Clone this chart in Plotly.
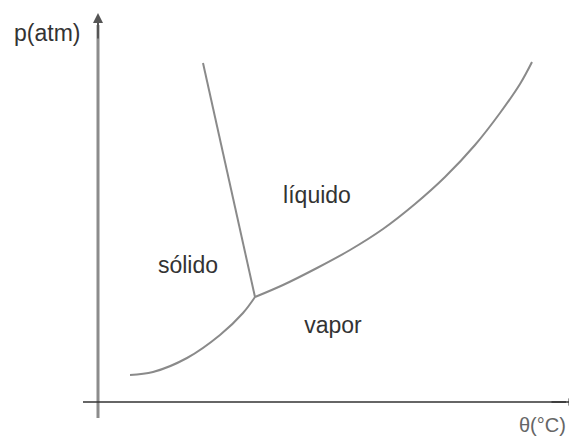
import plotly.graph_objects as go

sub_x = [130, 153, 187, 220, 243, 255]
sub_y = [375, 372, 358, 335, 313, 297]
fus_x = [255, 229, 203]
fus_y = [297, 180, 63]
vap_x = [255, 283, 317, 350, 383, 415, 445, 475, 500, 520, 532]
vap_y = [297, 285, 268, 250, 229, 204, 177, 145, 113, 84, 62]

region_labels = ["líquido", "sólido", "vapor"]
region_x = [317, 188, 333]
region_y = [197, 267, 327]

FONT = "Liberation Sans, Arial, sans-serif"
curve_color = "#8a8a8a"
fig = go.Figure()
for xs, ys in [(sub_x, sub_y), (fus_x, fus_y), (vap_x, vap_y)]:
    fig.add_trace(go.Scatter(x=xs, y=ys, mode="lines",
                             line=dict(color=curve_color, width=2, shape="spline", smoothing=1),
                             hoverinfo="skip", showlegend=False))

fig.add_trace(go.Scatter(x=region_x, y=region_y, mode="text", text=region_labels,
                         textfont=dict(family=FONT, size=23, color="#333"),
                         hoverinfo="skip", showlegend=False))

# Axes with arrows
fig.add_shape(type="line", x0=98, y0=418, x1=98, y1=25, line=dict(color="#8c8c8c", width=3))
fig.add_shape(type="line", x0=83, y0=402, x1=566, y1=402, line=dict(color="#333", width=1.5))
fig.add_annotation(x=98, y=13, ax=98, ay=40, xref="x", yref="y", axref="x", ayref="y",
                   showarrow=True, arrowhead=2, arrowsize=1, arrowwidth=2, arrowcolor="#555", text="")
fig.add_annotation(x=576, y=402, ax=550, ay=402, xref="x", yref="y", axref="x", ayref="y",
                   showarrow=True, arrowhead=2, arrowsize=1, arrowwidth=1.5, arrowcolor="#333", text="")

fig.add_annotation(x=47, y=33, text="p(atm)", showarrow=False,
                   font=dict(family=FONT, size=23, color="#333"))
fig.add_annotation(x=542, y=425, text="θ(°C)", showarrow=False,
                   font=dict(family=FONT, size=20, color="#666"))

fig.update_layout(width=569, height=430, margin=dict(l=0, r=0, t=0, b=0),
                  plot_bgcolor="white", paper_bgcolor="white",
                  xaxis=dict(range=[8, 577], visible=False, fixedrange=True),
                  yaxis=dict(range=[438, 8], visible=False, fixedrange=True))
fig.write_html("out.html")
